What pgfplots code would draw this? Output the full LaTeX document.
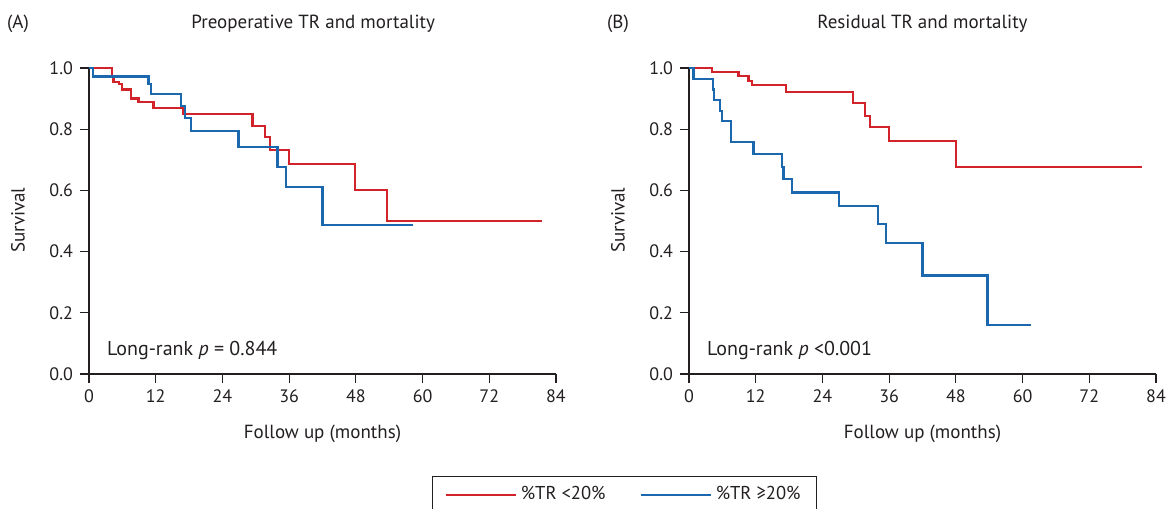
\documentclass[border=0pt]{standalone}
\usepackage{fontspec}
\setmainfont{PT Sans}
\usepackage{pgfplots}
\pgfplotsset{compat=1.18}
\definecolor{kmred}{RGB}{210,35,42}
\definecolor{kmblue}{RGB}{28,104,174}
\definecolor{txt}{RGB}{35,31,32}
\pgfplotsset{
  kmaxis/.style={
    scale only axis, width=233.5pt, height=153pt,
    xmin=0, xmax=84, ymin=0, ymax=1,
    axis lines=left, axis line style={-, line width=0.6pt, color=txt},
    xtick={0,12,...,84}, ytick={0,0.2,...,1.0},
    yticklabel style={/pgf/number format/.cd, fixed, fixed zerofill, precision=1},
    /pgf/number format/assume math mode=true,
    tick align=outside, major tick length=4.5pt,
    tick style={line width=0.6pt, color=txt},
    ticklabel style={font=\fontsize{9}{10}\selectfont, color=txt},
    clip=false,
    anchor=south west,
  },
  kmline/.style={const plot, line width=1.1pt},
}
\begin{document}
\begin{tikzpicture}
\path[use as bounding box] (-44.5pt,-67pt) rectangle (540.5pt,187pt);
\begin{axis}[kmaxis, at={(0pt,0pt)},
  legend columns=2,
  legend style={at={(0.7345,-0.3333)}, anchor=north west, draw=txt, line width=0.6pt,
    font=\fontsize{9.3}{10}\selectfont, text=txt,
    inner xsep=6pt, inner ysep=3pt,
    /tikz/every even column/.append style={column sep=15pt}},
  legend image code/.code={\draw[#1, line width=1.1pt] (0pt,0pt) -- (35pt,0pt);},
]
\addplot[kmline, kmred] coordinates {(0,1)(4.1,0.972)(4.4,0.955)(5.4,0.947)(6.0,0.93)(7.55,0.90)(8.9,0.888)(11.6,0.869)(16.9,0.849)(29.4,0.811)(31.6,0.774)(32.6,0.731)(36.0,0.687)(47.9,0.601)(53.6,0.50)(81.5,0.50)};
\addlegendentry{\%TR <20\%}
\addplot[kmline, kmblue] coordinates {(0,1)(0.66,0.972)(10.7,0.947)(11.2,0.914)(16.6,0.877)(17.2,0.836)(18.3,0.795)(26.9,0.743)(33.9,0.676)(35.4,0.611)(42.0,0.488)(58.3,0.488)};
\addlegendentry{\%TR ≥20\%}
\node[anchor=west, inner sep=0pt, font=\fontsize{10}{12}\selectfont, text=txt] at (axis cs:3.2,0.078) {Long-rank \textit{p} = 0.844};
\node[font=\fontsize{9.5}{11}\selectfont, text=txt] at (rel axis cs:0.48,1.144) {Preoperative TR and mortality};
\node[font=\fontsize{9.5}{11}\selectfont, text=txt] at (rel axis cs:-0.152,1.144) {(A)};
\node[font=\fontsize{9.5}{11}\selectfont, text=txt, rotate=90] at (rel axis cs:-0.152,0.503) {Survival};
\node[font=\fontsize{9.5}{11}\selectfont, text=txt] at (rel axis cs:0.5,-0.196) {Follow up (months)};
\end{axis}
\begin{axis}[kmaxis, at={(300pt,0pt)}]
\addplot[kmline, kmred] coordinates {(0,1)(4.2,0.987)(8.9,0.974)(10.7,0.958)(11.3,0.944)(17.4,0.922)(29.5,0.885)(31.7,0.844)(32.6,0.806)(36.0,0.762)(48.0,0.676)(81.5,0.676)};
\addplot[kmline, kmblue] coordinates {(0,1)(0.8,0.964)(4.3,0.93)(4.5,0.895)(5.6,0.86)(5.9,0.828)(7.55,0.758)(11.6,0.72)(16.7,0.677)(17.0,0.637)(18.5,0.593)(27.0,0.549)(34.0,0.489)(35.5,0.428)(42.0,0.322)(53.7,0.16)(61.5,0.16)};
\node[anchor=west, inner sep=0pt, font=\fontsize{10}{12}\selectfont, text=txt] at (axis cs:3.2,0.078) {Long-rank \textit{p} <0.001};
\node[font=\fontsize{9.5}{11}\selectfont, text=txt] at (rel axis cs:0.5,1.144) {Residual TR and mortality};
\node[font=\fontsize{9.5}{11}\selectfont, text=txt] at (rel axis cs:-0.152,1.144) {(B)};
\node[font=\fontsize{9.5}{11}\selectfont, text=txt, rotate=90] at (rel axis cs:-0.152,0.503) {Survival};
\node[font=\fontsize{9.5}{11}\selectfont, text=txt] at (rel axis cs:0.5,-0.196) {Follow up (months)};
\end{axis}
\end{tikzpicture}
\end{document}
